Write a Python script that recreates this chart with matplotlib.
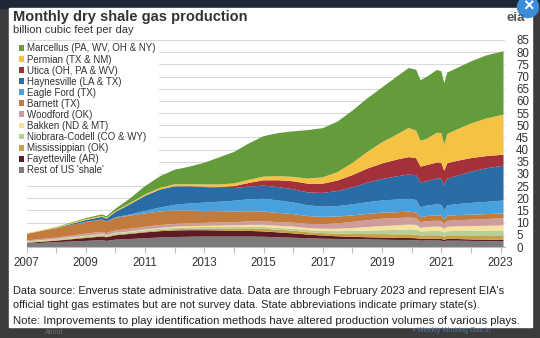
import matplotlib.pyplot as plt
import matplotlib.patches as mpatches

plt.rcParams['font.family'] = ['Liberation Sans', 'DejaVu Sans']

# time points (decimal years)
years = [2007.0, 2008.0, 2009.0, 2009.55, 2009.7, 2010.0, 2010.5, 2011.0, 2011.5,
         2012.0, 2012.5, 2013.0, 2013.5, 2014.0, 2014.5, 2015.0, 2015.5, 2016.0,
         2016.5, 2017.0, 2017.5, 2018.0, 2018.5, 2019.0, 2019.5, 2019.9, 2020.15,
         2020.3, 2020.5, 2020.85, 2021.0, 2021.1, 2021.2, 2021.5, 2022.0, 2022.5, 2023.1]

# billion cubic feet per day, bottom layer first
rest = [1.4, 2.0, 2.5, 2.8, 2.5, 3.0, 3.3, 3.6, 3.9, 4.1, 4.2, 4.3, 4.3, 4.3, 4.3, 4.2, 4.0, 3.8, 3.6,
        3.4, 3.3, 3.2, 3.1, 3.0, 2.9, 2.9, 2.8, 2.6, 2.7, 2.7, 2.6, 2.4, 2.6, 2.6, 2.5, 2.4, 2.3]
fayetteville = [0.3, 0.6, 1.2, 1.5, 1.5, 1.8, 2.1, 2.4, 2.6, 2.7, 2.7, 2.6, 2.5, 2.4, 2.3, 2.2, 2.0, 1.8, 1.5,
                1.3, 1.1, 1.0, 0.9, 0.9, 0.8, 0.8, 0.8, 0.7, 0.7, 0.7, 0.7, 0.6, 0.7, 0.7, 0.6, 0.6, 0.6]
mississippian = [0.2, 0.2, 0.3, 0.3, 0.3, 0.3, 0.3, 0.3, 0.4, 0.5, 0.6, 0.7, 0.8, 0.9, 1.0, 1.1, 1.1, 1.1, 1.0,
                 1.0, 1.1, 1.2, 1.3, 1.4, 1.5, 1.5, 1.5, 1.4, 1.4, 1.4, 1.4, 1.3, 1.4, 1.4, 1.5, 1.5, 1.6]
niobrara = [0.3, 0.4, 0.5, 0.5, 0.4, 0.5, 0.5, 0.6, 0.6, 0.6, 0.6, 0.6, 0.6, 0.6, 0.7, 0.7, 0.7, 0.8, 0.8,
            0.9, 1.0, 1.2, 1.4, 1.6, 1.8, 2.0, 2.0, 1.7, 1.7, 1.8, 1.8, 1.6, 1.8, 1.9, 2.1, 2.2, 2.3]
bakken = [0.1, 0.1, 0.2, 0.2, 0.2, 0.2, 0.2, 0.3, 0.3, 0.4, 0.5, 0.5, 0.6, 0.7, 0.8, 0.9, 0.9, 0.9, 0.9,
          0.9, 1.0, 1.2, 1.5, 1.7, 1.9, 2.0, 2.0, 1.5, 1.7, 1.8, 1.8, 1.5, 1.8, 1.9, 1.9, 2.0, 2.1]
woodford = [0.4, 0.6, 0.8, 0.9, 0.8, 1.0, 1.1, 1.1, 1.2, 1.2, 1.2, 1.2, 1.3, 1.3, 1.4, 1.5, 1.5, 1.6, 1.7,
            1.9, 2.2, 2.5, 2.8, 3.0, 3.0, 2.9, 2.8, 2.3, 2.4, 2.4, 2.4, 2.1, 2.4, 2.5, 2.6, 2.8, 2.9]
barnett = [2.7, 3.8, 4.8, 5.0, 4.7, 5.2, 5.4, 5.5, 5.6, 5.5, 5.2, 4.9, 4.6, 4.4, 4.2, 4.0, 3.8, 3.5, 3.2,
           3.0, 2.8, 2.7, 2.6, 2.5, 2.4, 2.4, 2.3, 2.0, 2.1, 2.2, 2.2, 1.8, 2.1, 2.1, 2.1, 2.0, 2.0]
eagle_ford = [0.0, 0.0, 0.05, 0.1, 0.1, 0.2, 0.5, 1.0, 1.6, 2.3, 2.9, 3.4, 3.9, 4.4, 4.9, 5.2, 5.1, 4.8, 4.4,
              4.2, 4.3, 4.5, 4.8, 5.0, 5.2, 5.3, 5.1, 4.1, 4.3, 4.5, 4.4, 3.8, 4.3, 4.5, 4.8, 5.0, 5.3]
haynesville = [0.0, 0.1, 0.7, 1.1, 1.1, 2.2, 4.2, 6.2, 7.4, 7.6, 7.0, 6.4, 5.7, 5.2, 5.2, 5.4, 5.5, 5.4, 5.3,
               5.6, 6.2, 7.0, 8.0, 8.8, 9.5, 10.0, 10.2, 10.2, 10.0, 10.6, 10.8, 10.3, 11.0, 11.5, 12.8, 13.8, 14.3]
utica = [0.0, 0.0, 0.0, 0.0, 0.0, 0.0, 0.0, 0.0, 0.0, 0.05, 0.1, 0.2, 0.4, 0.8, 1.5, 2.2, 2.8, 3.3, 3.6,
         3.8, 4.3, 5.0, 5.8, 6.4, 6.9, 7.1, 7.0, 6.5, 6.6, 6.6, 6.5, 5.9, 6.3, 6.2, 5.6, 5.0, 4.5]
permian = [0.2, 0.3, 0.4, 0.4, 0.4, 0.4, 0.5, 0.6, 0.7, 0.8, 0.8, 0.9, 1.0, 1.1, 1.3, 1.5, 1.7, 1.8, 2.1,
           2.6, 3.5, 5.0, 6.8, 8.7, 10.3, 12.0, 11.3, 10.6, 10.8, 12.2, 12.2, 10.8, 12.0, 12.8, 14.2, 15.4, 16.5]
marcellus = [0.0, 0.1, 0.4, 0.6, 0.6, 0.9, 1.9, 3.4, 4.7, 6.0, 7.2, 8.9, 11.1, 12.9, 14.9, 16.6, 17.7, 18.7, 19.9,
             20.2, 20.7, 21.5, 22.0, 22.5, 23.8, 24.6, 25.0, 24.9, 25.4, 25.8, 25.4, 25.2, 25.2, 25.2, 25.5, 25.9, 26.0]

labels = ["Rest of US 'shale'", 'Fayetteville (AR)', 'Mississippian (OK)', 'Niobrara-Codell (CO & WY)',
          'Bakken (ND & MT)', 'Woodford (OK)', 'Barnett (TX)', 'Eagle Ford (TX)', 'Haynesville (LA & TX)',
          'Utica (OH, PA & WV)', 'Permian (TX & NM)', 'Marcellus (PA, WV, OH & NY)']
colors = ['#7b7b7b', '#5e1a25', '#c9a043', '#b4cf98', '#f6e29c', '#cf9c9e', '#c27b3c',
          '#48a0dc', '#2a6ca6', '#a3303a', '#f6c244', '#649b3b']

fig = plt.figure(figsize=(5.4, 3.38), dpi=100)

# screenshot frame: dark page around a white popup
bg = fig.add_axes([0, 0, 1, 1])
bg.set_xlim(0, 540)
bg.set_ylim(338, 0)
bg.axis('off')
bg.add_patch(mpatches.Rectangle((0, 0), 540, 338, color='#3c3c3c'))
bg.add_patch(mpatches.Rectangle((0, 0), 540, 8, color='#1d2835'))
bg.add_patch(mpatches.Rectangle((9, 8), 523, 319, color='white'))
bg.text(45, 333, 'About', fontsize=5, color='#707070', va='center')
bg.text(413, 331, '• Weekly Working Gas in', fontsize=5, color='#5878a0', va='center')

bg.text(13, 17, 'Monthly dry shale gas production', fontsize=10.5, fontweight='bold',
        color='#333333', va='center')
bg.text(13, 30, 'billion cubic feet per day', fontsize=8, color='#333333', va='center')

notes = ["Data source: Enverus state administrative data. Data are through February 2023 and represent EIA's",
         "official tight gas estimates but are not survey data. State abbreviations indicate primary state(s).",
         "Note: Improvements to play identification methods have altered production volumes of various plays."]
for txt, yy, fs in zip(notes, [291, 305, 320.5], [7.95, 7.95, 8.2]):
    bg.text(13, yy, txt, fontsize=fs, color='#222222', va='center')

ax = fig.add_axes([26.5 / 540, (338 - 247) / 338, (505 - 26.5) / 540, (247 - 40) / 338])
polys = ax.stackplot(years, rest, fayetteville, mississippian, niobrara, bakken, woodford, barnett,
                     eagle_ford, haynesville, utica, permian, marcellus,
                     colors=colors, labels=labels, linewidth=0, zorder=2)
ax.set_xlim(2007, 2023.15)
ax.set_ylim(0, 85)
ax.set_yticks(range(0, 90, 5))
ax.yaxis.tick_right()
ax.tick_params(axis='y', length=0, pad=8, labelsize=8.3, labelcolor='#333333')
ax.set_xticks(range(2007, 2024))
ax.set_xticklabels([str(y) if y % 2 == 1 else '' for y in range(2007, 2024)])
ax.tick_params(axis='x', length=4, color='#bfbfbf', pad=3, labelsize=8.3, labelcolor='#333333')
ax.grid(axis='y', color='#d9d9d9', linewidth=0.8)
ax.set_axisbelow(True)
for side in ['top', 'left', 'right']:
    ax.spines[side].set_visible(False)
ax.spines['bottom'].set_color('#bfbfbf')

leg = ax.legend(polys[::-1], labels[::-1], loc='upper left',
                bbox_to_anchor=(17 / 540, 1 - 41.5 / 338), bbox_transform=fig.transFigure,
                fontsize=7, handlelength=0.55, handleheight=0.55, handletextpad=0.3,
                labelspacing=0.11, borderpad=0.2, borderaxespad=0, frameon=True,
                fancybox=False, edgecolor='white', facecolor='white', framealpha=1)
leg.set_zorder(1)
for t in leg.get_texts():
    t.set_color('#333333')

# logo and close button
top = fig.add_axes([0, 0, 1, 1], zorder=10)
top.set_xlim(0, 540)
top.set_ylim(338, 0)
top.axis('off')
top.text(516, 18, 'eia', fontsize=9.5, fontweight='bold', color='#555555', ha='center', va='center')
top.add_patch(mpatches.Circle((528, 7), 10.5, color='#3b8ddb'))
top.text(528, 7.5, '×', fontsize=13, fontweight='bold', color='white', ha='center', va='center')

fig.savefig('out.png', dpi=100)
